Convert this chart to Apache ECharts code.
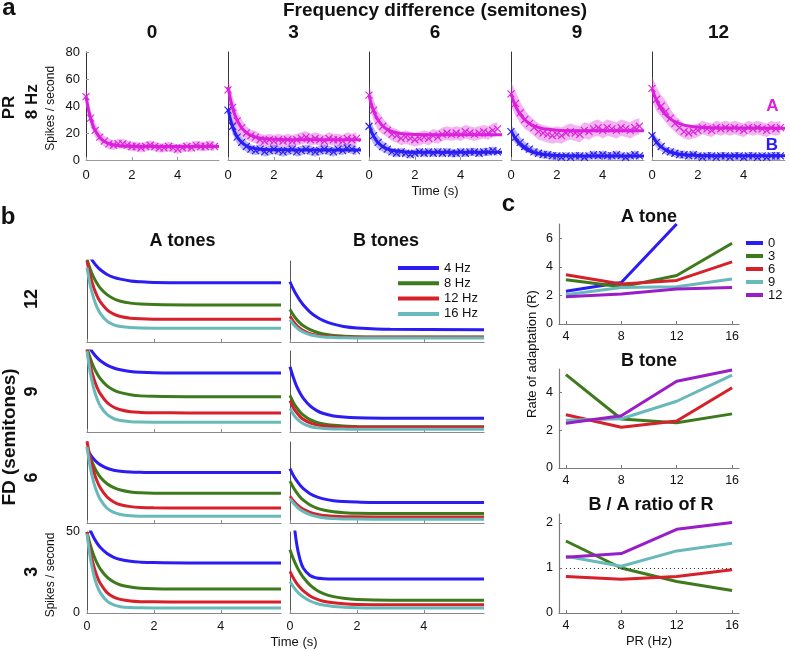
<!DOCTYPE html>
<html><head><meta charset="utf-8">
<script src="https://cdn.jsdelivr.net/npm/echarts@6/dist/echarts.min.js"></script>
<style>html,body{margin:0;padding:0;background:#fff}#c{width:790px;height:651px}</style>
</head><body><div id="c"></div>
<script>
// ================= DATA =================
// ---- Panel a: PR 8 Hz, spike rates (spikes/s) vs time (s) ----
const fdLabels = ['0', '3', '6', '9', '12'];
const tCross = [0,0.2,0.4,0.6,0.8,1,1.2,1.4,1.6,1.8,2,2.2,2.4,2.6,2.8,3,3.2,3.4,3.6,3.8,4,4.2,4.4,4.6,4.8,5,5.2,5.4,5.6];
const tFit = [0,0.1,0.2,0.3,0.4,0.6,0.8,1.0,1.3,1.6,2,3,5.8];

const crossA0 = [47,31,22,17,14,12,11,12,12,11,10,10,9,10,11,10,9,9,10,9,8,9,10,9,11,10,10,11,10];
const fitA0   = [47,37.8,30.9,25.7,21.8,16.7,13.8,12.1,10.9,10.4,10.1,10,10];
const semA0   = [7,6,5,4,4,4,3.5,3.5,3.5,3.5,3.5,3.5,3.5,3.5,3.5,3.5,3.5,3.5,3.5,3.5,3.5,3.5,3.5,3.5,3.5,3.5,3.5,3.5,3.5];

const crossA3 = [52,39,29,24,20,18,17,15,14,15,14,15,14,15,14,15,16,17,15,16,15,14,16,15,15,14,16,15,16];
const fitA3   = [54,45.4,38.7,33.4,29.4,23.7,20.3,18.2,16.5,15.7,15.3,15,15];
const semA3   = [9,8,7,6,5,4.5,4.5,4.5,4.5,4.5,4.5,4.5,4.5,4.5,4.5,4.5,4.5,4.5,4.5,4.5,4.5,4.5,4.5,4.5,4.5,4.5,4.5,4.5,4.5];
const crossB3 = [37,25,17,13,10,8,7,8,6,7,8,7,6,7,8,6,7,8,7,6,7,8,7,6,8,7,9,8,7];
const fitB3   = [38,30.4,24.7,20.4,17.2,13.0,10.6,9.2,8.2,7.8,7.6,7.5,7.5];
const semB3   = [6,6,5,4.5,4,3.5,3.5,3.5,3.5,3.5,3.5,3.5,3.5,3.5,3.5,3.5,3.5,3.5,3.5,3.5,3.5,3.5,3.5,3.5,3.5,3.5,3.5,3.5,3.5];

const crossA6 = [48,37,29,25,22,19,18,16,17,16,15,16,17,16,18,17,19,20,19,20,19,21,20,19,20,21,20,22,23];
const fitA6   = [48,41.5,36.5,32.5,29.5,25.2,22.7,21.1,19.8,19.2,18.9,18.7,18.7];
const semA6   = [8,8,7,6,5,5,5,5,5,5,5,5,5,5,5,5,5,5,5,5,5,5,5,5,5,5,5,5,5];
const crossB6 = [25,18,13,10,8,6,5,6,5,4,5,6,5,6,5,6,5,6,5,5,6,5,6,6,5,6,6,7,6];
const fitB6   = [26,21.3,17.7,14.9,12.8,9.9,8.2,7.2,6.4,6.0,5.8,5.7,5.7];
const semB6   = [7,6,5,4,3.5,3,3,3,3,3,3,3,3,3,3,3,3,3,3,3,3,3,3,3,3,3,3,3,3];

const crossA9 = [49,42,35,30,27,24,21,20,19,18,19,18,20,21,20,19,22,21,23,24,22,24,23,22,24,23,22,24,25];
const fitA9   = [49,44.0,40.0,36.6,33.9,29.8,27.1,25.3,23.6,22.7,22.1,21.7,21.6];
const semA9   = [9,9,8,7,6,6,6,6,6,6,6,6,6,6,6,6,6,6,6,6,6,6,6,6,6,6,6,6,6];
const crossB9 = [21,17,13,10,8,6,5,4,4,3,3,2,3,2,3,3,2,3,4,3,4,3,3,4,3,2,3,4,3];
const fitB9   = [22,18.6,15.7,13.4,11.5,8.7,6.8,5.6,4.4,3.8,3.3,3.0,3.0];
const semB9   = [5,5,4,3.5,3,3,3,3,3,3,3,3,3,3,3,3,3,3,3,3,3,3,3,3,3,3,3,3,3];

const crossA12 = [53,45,40,36,31,27,24,21,20,21,22,24,23,22,24,23,24,23,24,23,22,24,23,24,23,22,24,23,24];
const fitA12   = [53,48.1,44.0,40.7,37.8,33.5,30.5,28.4,26.4,25.2,24.4,23.7,23.6];
const semA12   = [9,9,8,8,7,6,6,5,5,5,5,5,5,5,5,5,5,5,5,5,5,5,5,5,5,5,5,5,5];
const crossB12 = [18,13,10,7,6,5,4,4,3,4,3,2,3,3,2,3,3,2,3,3,2,3,3,2,3,2,3,3,3];
const fitB12   = [19,15.8,13.3,11.3,9.7,7.4,5.9,4.9,4.1,3.7,3.4,3.2,3.2];
const semB12   = [4,4,3.5,3,3,3,3,3,3,3,3,3,3,3,3,3,3,3,3,3,3,3,3,3,3,3,3,3,3];

// ---- Panel b: fitted responses, rows FD 12, 9, 6, 3 ----
const prNames = ['4 Hz', '8 Hz', '12 Hz', '16 Hz'];
const tCurve = [0,0.1,0.2,0.3,0.4,0.6,0.8,1.0,1.3,1.6,2,3,5.8];
const A12_4  = [56.2,52.3,49.2,46.6,44.6,41.7,39.9,38.8,37.7,37.2,36.8,36.6,36.6];
const A12_8  = [51,44.8,39.9,36.2,33.2,29.2,26.7,25.2,24.0,23.4,23.1,22.9,22.9];
const A12_12 = [50,40.6,33.6,28.5,24.7,19.8,17.2,15.7,14.7,14.3,14.1,14,14];
const A12_16 = [46,34.7,26.9,21.4,17.5,12.9,10.6,9.6,8.9,8.6,8.5,8.5,8.5];
const B12_4  = [37.2,32.6,28.8,25.6,22.8,18.5,15.4,13.2,11.0,9.6,8.7,7.8,7.6];
const B12_8  = [20,16.6,13.9,11.7,10.0,7.6,6.0,4.9,4.0,3.6,3.3,3.1,3.1];
const B12_12 = [15.9,12.7,10.2,8.4,7.0,5.2,4.2,3.6,3.2,3.0,2.9,2.9,2.9];
const B12_16 = [13.8,11.0,8.9,7.3,6.1,4.5,3.7,3.1,2.8,2.6,2.5,2.5,2.5];
const A9_4   = [55.0,51.3,48.3,45.9,44.0,41.3,39.5,38.4,37.4,36.9,36.6,36.4,36.4];
const A9_8   = [52,45.3,40.1,36.1,32.9,28.5,25.9,24.3,23.0,22.3,22.0,21.8,21.8];
const A9_12  = [51,40.8,33.2,27.6,23.5,18.2,15.3,13.7,12.5,12.1,11.9,11.8,11.8];
const A9_16  = [50,36.4,27.0,20.5,16.0,10.8,8.3,7.1,6.4,6.1,6.0,6,6];
const B9_4   = [40.3,33.6,28.2,24.1,20.8,16.1,13.2,11.4,9.9,9.2,8.8,8.5,8.5];
const B9_8   = [22.6,18.3,15.0,12.4,10.4,7.6,5.9,4.9,4.1,3.7,3.4,3.3,3.3];
const B9_12  = [19.3,15.0,11.9,9.5,7.8,5.6,4.4,3.7,3.2,3.0,2.9,2.9,2.9];
const B9_16  = [14.6,10.9,8.3,6.4,5.1,3.4,2.6,2.2,1.9,1.8,1.7,1.7,1.7];
const A6_4   = [46,42.3,39.5,37.4,35.9,33.8,32.6,32.0,31.5,31.3,31.1,31.1,31.1];
const A6_8   = [47,40.4,35.3,31.3,28.3,24.2,21.8,20.4,19.2,18.7,18.4,18.3,18.3];
const A6_12  = [50.5,39.7,31.8,25.9,21.6,16.0,13.0,11.3,10.1,9.6,9.4,9.3,9.3];
const A6_16  = [47,34.1,25.1,18.8,14.4,9.1,6.5,5.3,4.5,4.2,4.1,4.1,4.1];
const B6_4   = [33.6,29.4,26.1,23.4,21.2,18.1,16.1,14.9,13.8,13.2,12.9,12.6,12.6];
const B6_8   = [25.9,21.9,18.7,16.1,14.1,11.1,9.2,8.0,6.9,6.4,6.0,5.8,5.8];
const B6_12  = [16.5,13.7,11.5,9.7,8.4,6.6,5.4,4.7,4.2,3.9,3.8,3.7,3.7];
const B6_16  = [15.1,12.3,10.1,8.3,7.0,5.2,4.0,3.3,2.8,2.5,2.4,2.3,2.3];
const A3_4   = [56.7,51.0,46.6,43.1,40.4,36.7,34.4,33.0,31.9,31.4,31.1,30.9,30.9];
const A3_8   = [50,41.9,35.6,30.8,27.1,22.1,19.1,17.3,16.0,15.3,15.0,14.8,14.8];
const A3_12  = [50,37.8,29.0,22.7,18.2,12.6,9.8,8.4,7.4,7.0,6.9,6.8,6.8];
const A3_16  = [49,33.9,23.7,16.9,12.4,7.3,5.0,3.9,3.4,3.2,3.1,3.1,3.1];
const B3_4   = [91,59.9,42.6,33.0,27.6,23.1,21.6,21.2,21.0,21.0,21.0,21.0,21.0];
const B3_8   = [39.1,33.4,28.8,25.0,21.9,17.2,14.1,12.0,10.1,9.1,8.4,7.9,7.8];
const B3_12  = [25.7,21.6,18.3,15.7,13.6,10.5,8.6,7.3,6.3,5.7,5.3,5.1,5.1];
const B3_16  = [19.5,16.2,13.6,11.5,9.8,7.4,5.9,4.9,4.0,3.6,3.3,3.1,3.1];

// ---- Panel c: rate of adaptation vs PR ----
const prHz = [4, 8, 12, 16];
const fdNames = ['0', '3', '6', '9', '12'];
const rateA_0  = [2.3, 2.9, 7.0, null];
const rateA_3  = [3.1, 2.6, 3.4, 5.65];
const rateA_6  = [3.45, 2.8, 3.05, 4.35];
const rateA_9  = [2.05, 2.55, 2.6, 3.15];
const rateA_12 = [1.9, 2.1, 2.45, 2.55];
const rateB_3  = [4.95, 2.6, 2.4, 2.87];
const rateB_6  = [2.82, 2.16, 2.49, 4.26];
const rateB_9  = [2.53, 2.61, 3.54, 4.93];
const rateB_12 = [2.37, 2.77, 4.6, 5.2];
const ratio_3  = [1.6, 1.0, 0.7, 0.5];
const ratio_6  = [0.81, 0.75, 0.81, 0.96];
const ratio_9  = [1.26, 1.04, 1.38, 1.55];
const ratio_12 = [1.24, 1.32, 1.86, 2.01];

// ================= STYLE / LAYOUT =================
const FONT = "'Liberation Sans', Arial, Helvetica, sans-serif";
const COL = {blue:'#2a1cf2', green:'#3d7a1c', red:'#d6202a', teal:'#68b9b9', purple:'#9a1ec8', magenta:'#dc1fdc'};
const BAND = {magenta:'rgba(222,60,222,0.38)', blue:'rgba(60,50,242,0.36)'};
const prColors = [COL.blue, COL.green, COL.red, COL.teal];
const fdColors = [COL.blue, COL.green, COL.red, COL.teal, COL.purple];

const grids = [], xAxes = [], yAxes = [], series = [];
function addGrid(g, x, y) {
  const gi = grids.length;
  grids.push(Object.assign({outerBoundsMode:'none', containLabel:false}, g));
  xAxes.push(Object.assign({gridIndex: gi, type:'value', splitLine:{show:false}}, x));
  yAxes.push(Object.assign({gridIndex: gi, type:'value', splitLine:{show:false}}, y));
  return gi;
}
const pairs = (xs, ys) => xs.map((x, i) => [x, ys[i]]);

// ---- panel a ----
const aPanels = [
  {A:[crossA0, fitA0, semA0], B:null},
  {A:[crossA3, fitA3, semA3], B:[crossB3, fitB3, semB3]},
  {A:[crossA6, fitA6, semA6], B:[crossB6, fitB6, semB6]},
  {A:[crossA9, fitA9, semA9], B:[crossB9, fitB9, semB9]},
  {A:[crossA12, fitA12, semA12], B:[crossB12, fitB12, semB12]}
];
const aLeft = [86, 228, 369, 511, 652];
function addTone(gi, tone, colKey, tag) {
  const [cross, fit, sem] = tone;
  const col = COL[colKey];
  const base = {xAxisIndex: gi, yAxisIndex: gi, silent: true, animation: false};
  const lo = cross.map((v, i) => v - sem[i]);
  const hi = cross.map((v, i) => v + sem[i]);
  // shaded error band (polygon through the axes' own coordinate mapping)
  series.push(Object.assign({type:'custom', name:'band'+tag, clip:true,
    data: tCross.map((t, i) => [t, lo[i], hi[i]]),
    encode:{x:0, y:[1, 2]},
    renderItem: function (params, api) {
      if (params.dataIndex !== 0) return null;
      const up = tCross.map((t, i) => api.coord([t, hi[i]]));
      const dn = tCross.map((t, i) => api.coord([t, lo[i]])).reverse();
      return {type:'polygon', shape:{points: up.concat(dn)}, style:{fill: BAND[colKey]}};
    }}, base));
  series.push(Object.assign({type:'line', name:'fit'+tag, data: pairs(tFit, fit), symbol:'none', smooth:0.4,
    lineStyle:{width:3, color: col}, itemStyle:{color: col}}, base));
  series.push(Object.assign({type:'scatter', name:'data'+tag, data: pairs(tCross, cross),
    symbol:'path://M0,0L10,10M10,0L0,10', symbolSize:7,
    itemStyle:{color:'rgba(0,0,0,0)', borderColor: col, borderWidth:1.1, opacity:1}}, base));
}
aPanels.forEach((p, i) => {
  const gi = addGrid({left: aLeft[i], top: 52, width: 133, height: 108},
    {min:0, max:5.8, interval:2,
     axisLine:{lineStyle:{color:'#9a9a9a'}},
     axisTick:{inside:true, length:3, customValues:[0,2,4], lineStyle:{color:'#9a9a9a'}},
     axisLabel:{customValues:[0,2,4], fontSize:13, color:'#111', fontFamily:FONT, margin:9}},
    {min:0, max:80, interval:20,
     axisLine:{show:true, lineStyle:{color:'#333'}},
     axisTick:{show:i===0, inside:true, length:3, lineStyle:{color:'#9a9a9a'}},
     axisLabel:{show:i===0, fontSize:13, color:'#111', fontFamily:FONT, margin:6}});
  if (p.B) addTone(gi, p.B, 'blue', 'B'+fdLabels[i]);
  addTone(gi, p.A, 'magenta', 'A'+fdLabels[i]);
});

// ---- panel b ----
const bRows = [
  {A:[A12_4, A12_8, A12_12, A12_16], B:[B12_4, B12_8, B12_12, B12_16]},
  {A:[A9_4, A9_8, A9_12, A9_16],     B:[B9_4, B9_8, B9_12, B9_16]},
  {A:[A6_4, A6_8, A6_12, A6_16],     B:[B6_4, B6_8, B6_12, B6_16]},
  {A:[A3_4, A3_8, A3_12, A3_16],     B:[B3_4, B3_8, B3_12, B3_16]}
];
const bTops = [261, 351, 442, 532];
const bLefts = [87, 290];
bRows.forEach((row, r) => {
  [row.A, row.B].forEach((curves, c) => {
    const bottom = r === bRows.length - 1;
    const labelY = bottom && c === 0;
    const gi = addGrid({left: bLefts[c], top: bTops[r], width: 194, height: 81},
      {min:0, max:5.8, interval:2,
       axisLine:{lineStyle:{color:'#8a8a8a', width:1.2}},
       axisTick:{inside:true, length:3, customValues:[0,2,4], lineStyle:{color:'#8a8a8a'}},
       axisLabel:{show:bottom, customValues:[0,2,4], fontSize:12.5, color:'#111', fontFamily:FONT, margin:7}},
      {min:0, max:50, interval:50,
       axisLine:{show:true, lineStyle:{color:'#555'}},
       axisTick:{show:labelY, inside:true, length:3, lineStyle:{color:'#8a8a8a'}},
       axisLabel:{show:labelY, fontSize:12.5, color:'#111', fontFamily:FONT, margin:7}});
    curves.forEach((ys, k) => {
      series.push({type:'line', name: prNames[k], xAxisIndex: gi, yAxisIndex: gi, data: pairs(tCurve, ys),
        symbol:'none', smooth:0.35, clip:true, lineStyle:{width:3, color: prColors[k]},
        itemStyle:{color: prColors[k]}, silent:true});
    });
  });
});

// ---- panel c ----
const cLeft = 559, cWidth = 180;
const xC = () => ({min:3.5, max:16.5, interval:4,
  axisLine:{lineStyle:{color:'#7a7a7a', width:1.2}},
  axisTick:{inside:true, length:3, customValues:prHz, lineStyle:{color:'#7a7a7a'}},
  axisLabel:{customValues:prHz, fontSize:12.5, color:'#111', fontFamily:FONT, margin:6}});
const yC = (max, vals) => ({min:0, max:max,
  axisLine:{show:true, lineStyle:{color:'#7a7a7a', width:1.2}},
  axisTick:{inside:true, length:3, customValues:vals, lineStyle:{color:'#7a7a7a'}},
  axisLabel:{customValues:vals, fontSize:12.5, color:'#111', fontFamily:FONT, margin:6}});
const cPlots = [
  {top:224, height:100, max:7, ticks:[0,2,4,6], lines:[rateA_0, rateA_3, rateA_6, rateA_9, rateA_12], fd:[0,1,2,3,4]},
  {top:369, height:99, max:5.25, ticks:[0,2,4], lines:[rateB_3, rateB_6, rateB_9, rateB_12], fd:[1,2,3,4]},
  {top:514, height:99, max:2.2, ticks:[0,1,2], lines:[ratio_3, ratio_6, ratio_9, ratio_12], fd:[1,2,3,4], ref:1}
];
cPlots.forEach((p) => {
  const gi = addGrid({left:cLeft, top:p.top, width:cWidth, height:p.height}, xC(), yC(p.max, p.ticks));
  p.lines.forEach((ys, k) => {
    const fi = p.fd[k];
    const s = {type:'line', name: fdNames[fi], xAxisIndex: gi, yAxisIndex: gi, data: pairs(prHz, ys),
      symbol:'none', clip:true, lineStyle:{width:3, color: fdColors[fi]}, itemStyle:{color: fdColors[fi]}, silent:true};
    if (p.ref !== undefined && k === 0) {
      s.markLine = {silent:true, symbol:'none', label:{show:false}, animation:false,
        lineStyle:{color:'#222', type:[1,3], width:1},
        data:[[{coord:[prHz[0], p.ref]}, {coord:[prHz[prHz.length-1], p.ref]}]]};
    }
    series.push(s);
  });
});

// ---- texts ----
function txt(text, x, y, size, o) {
  o = o || {};
  return {type:'text', x:x, y:y, rotation: o.rot ? Math.PI/2 : 0, silent:true, z:100,
    style:{text:text, fill:o.color || '#111', fontSize:size, fontFamily:FONT, fontWeight:o.bold ? 'bold' : 'normal',
      align:'center', verticalAlign:'middle'}};
}
const colX = [152, 293.5, 435, 577, 718.5];
const texts = [
  txt('a', 9, 8, 24, {bold:true}),
  txt('Frequency difference (semitones)', 435, 11, 19, {bold:true}),
  txt('PR', 9, 107.5, 17, {bold:true, rot:true}),
  txt('8 Hz', 32, 101.7, 17, {bold:true, rot:true}),
  txt('Spikes / second', 51, 108.3, 12, {rot:true}),
  txt('A', 772.5, 106.7, 17, {bold:true, color:COL.magenta}),
  txt('B', 772, 145.3, 17, {bold:true, color:COL.blue}),
  txt('Time (s)', 435, 191, 13),
  txt('b', 8, 217, 24, {bold:true}),
  txt('A tones', 182.5, 241, 18, {bold:true}),
  txt('B tones', 386, 241, 18, {bold:true}),
  txt('FD (semitones)', 10, 437, 19, {bold:true, rot:true}),
  txt('Spikes / second', 50.5, 575, 12, {rot:true}),
  txt('Time (s)', 294, 642, 13),
  txt('c', 508.5, 204, 24, {bold:true}),
  txt('A tone', 649, 217, 18, {bold:true}),
  txt('B tone', 649, 361, 18, {bold:true}),
  txt('B / A ratio of R', 651, 505.5, 18, {bold:true}),
  txt('PR (Hz)', 649, 641.5, 13),
  txt('Rate of adaptation (R)', 532, 354, 13, {rot:true})
];
fdLabels.forEach((l, i) => texts.push(txt(l, colX[i], 33, 19, {bold:true})));
const rowLabels = ['12', '9', '6', '3'];
const rowY = [299, 391.5, 477.5, 571.7];
rowLabels.forEach((l, i) => texts.push(txt(l, 32, rowY[i], 18, {bold:true, rot:true})));

const option = {
  animation: false,
  backgroundColor: '#fff',
  grid: grids, xAxis: xAxes, yAxis: yAxes, series: series,
  legend: [
    {data: prNames, left: 398, top: 260.5, orient:'vertical', icon:'rect', itemWidth:41, itemHeight:4, itemGap:0.3,
     padding:0, selectedMode:false, textStyle:{fontSize:13, lineHeight:15, color:'#111', fontFamily:FONT}},
    {data: fdNames, left: 746, top: 236.5, orient:'vertical', icon:'rect', itemWidth:17, itemHeight:4, itemGap:0,
     padding:0, selectedMode:false, textStyle:{fontSize:13, lineHeight:12.3, color:'#111', fontFamily:FONT}}
  ],
  graphic: {elements: texts}
};
const chart = echarts.init(document.getElementById('c'), null, {renderer:'canvas', width:790, height:651});
chart.setOption(option);
</script>
</body></html>
